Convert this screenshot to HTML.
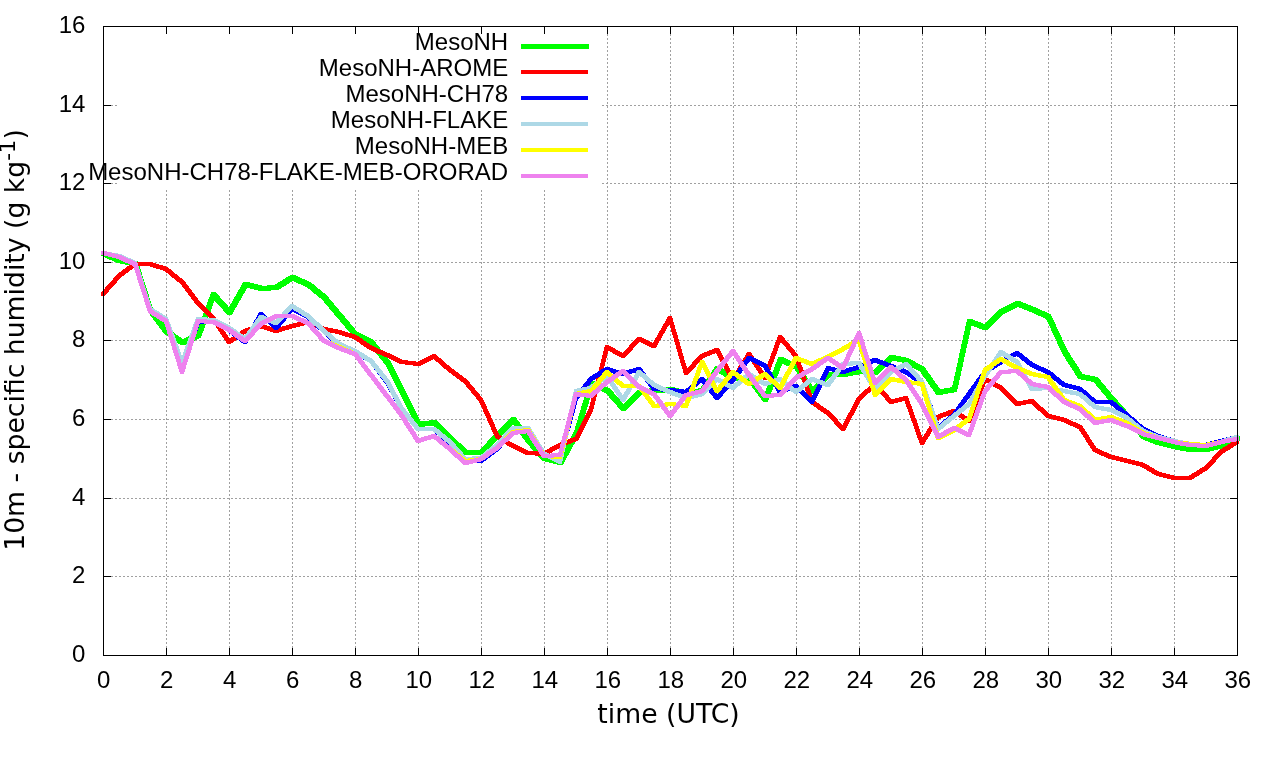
<!DOCTYPE html>
<html lang="en"><head><meta charset="utf-8"><title>10m - specific humidity</title>
<style>html,body{margin:0;padding:0;background:#fff;}body{width:1280px;height:760px;overflow:hidden;}svg{display:block;}.t{font-family:"Liberation Sans",Arial,sans-serif;font-size:24px;fill:#000;}.l{font-family:"DejaVu Sans","Liberation Sans",sans-serif;font-size:26.67px;fill:#000;}.g{stroke:#a0a0a0;stroke-width:1;stroke-dasharray:2 2;fill:none;shape-rendering:crispEdges;}.k{stroke:#000;stroke-width:1;fill:none;shape-rendering:crispEdges;}.s{stroke:none;fill-rule:nonzero;shape-rendering:crispEdges;}</style></head><body>
<svg width="1280" height="760" viewBox="0 0 1280 760">
<rect width="1280" height="760" fill="#fff"/>
<path class="g" d="M166.5 656V190M229.5 656V190M292.5 656V190M355.5 656V190M418.5 656V190M481.5 656V190M544.5 656V190M607.5 656V26M670.5 656V26M733.5 656V26M796.5 656V26M859.5 656V26M922.5 656V26M985.5 656V26M1048.5 656V26M1111.5 656V26M1174.5 656V26M103 576.5H1238M103 498.5H1238M103 419.5H1238M103 340.5H1238M103 262.5H1238M103 183.5H117M602 183.5H1238M103 105.5H117M602 105.5H1238"/>
<path class="k" d="M103.5 656v-8M103.5 26v8M166.5 656v-8M166.5 26v8M229.5 656v-8M229.5 26v8M292.5 656v-8M292.5 26v8M355.5 656v-8M355.5 26v8M418.5 656v-8M418.5 26v8M481.5 656v-8M481.5 26v8M544.5 656v-8M544.5 26v8M607.5 656v-8M607.5 26v8M670.5 656v-8M670.5 26v8M733.5 656v-8M733.5 26v8M796.5 656v-8M796.5 26v8M859.5 656v-8M859.5 26v8M922.5 656v-8M922.5 26v8M985.5 656v-8M985.5 26v8M1048.5 656v-8M1048.5 26v8M1111.5 656v-8M1111.5 26v8M1174.5 656v-8M1174.5 26v8M1237.5 656v-8M1237.5 26v8M103 655.5h8M1238 655.5h-8M103 576.5h8M1238 576.5h-8M103 498.5h8M1238 498.5h-8M103 419.5h8M1238 419.5h-8M103 340.5h8M1238 340.5h-8M103 262.5h8M1238 262.5h-8M103 183.5h8M1238 183.5h-8M103 105.5h8M1238 105.5h-8M103 26.5h8M1238 26.5h-8"/>
<text class="t" x="103.8" y="688.2" text-anchor="middle">0</text>
<text class="t" x="166.8" y="688.2" text-anchor="middle">2</text>
<text class="t" x="229.8" y="688.2" text-anchor="middle">4</text>
<text class="t" x="292.8" y="688.2" text-anchor="middle">6</text>
<text class="t" x="355.8" y="688.2" text-anchor="middle">8</text>
<text class="t" x="418.8" y="688.2" text-anchor="middle">10</text>
<text class="t" x="481.8" y="688.2" text-anchor="middle">12</text>
<text class="t" x="544.8" y="688.2" text-anchor="middle">14</text>
<text class="t" x="607.8" y="688.2" text-anchor="middle">16</text>
<text class="t" x="670.8" y="688.2" text-anchor="middle">18</text>
<text class="t" x="733.8" y="688.2" text-anchor="middle">20</text>
<text class="t" x="796.8" y="688.2" text-anchor="middle">22</text>
<text class="t" x="859.8" y="688.2" text-anchor="middle">24</text>
<text class="t" x="922.8" y="688.2" text-anchor="middle">26</text>
<text class="t" x="985.8" y="688.2" text-anchor="middle">28</text>
<text class="t" x="1048.8" y="688.2" text-anchor="middle">30</text>
<text class="t" x="1111.8" y="688.2" text-anchor="middle">32</text>
<text class="t" x="1174.8" y="688.2" text-anchor="middle">34</text>
<text class="t" x="1237.8" y="688.2" text-anchor="middle">36</text>
<text class="t" x="85.4" y="662.0" text-anchor="end">0</text>
<text class="t" x="85.4" y="583.0" text-anchor="end">2</text>
<text class="t" x="85.4" y="505.0" text-anchor="end">4</text>
<text class="t" x="85.4" y="426.0" text-anchor="end">6</text>
<text class="t" x="85.4" y="347.0" text-anchor="end">8</text>
<text class="t" x="85.4" y="269.0" text-anchor="end">10</text>
<text class="t" x="85.4" y="190.0" text-anchor="end">12</text>
<text class="t" x="85.4" y="112.0" text-anchor="end">14</text>
<text class="t" x="85.4" y="33.0" text-anchor="end">16</text>
<path class="s" fill="#00ff00" d="M101.5 251L105.5 251L121.5 258L121.5 263L117.5 263L101.5 256ZM117.5 258L121.5 258L137.5 261L137.5 266L133.5 266L117.5 263ZM133 261.5L138 261.5L153 308.5L153 312.5L148 312.5L133 265.5ZM148 308.5L153 308.5L169 329.5L169 333.5L164 333.5L148 312.5ZM164.5 329L168.5 329L184.5 340L184.5 345L180.5 345L164.5 334ZM180.5 340L196.5 333L200.5 333L200.5 338L184.5 345L180.5 345ZM196 333.5L211 292.5L216 292.5L216 296.5L201 337.5L196 337.5ZM211 292.5L216 292.5L232 310.5L232 314.5L227 314.5L211 296.5ZM227 310.5L243 282.5L248 282.5L248 286.5L232 314.5L227 314.5ZM243.5 282L247.5 282L263.5 286L263.5 291L259.5 291L243.5 287ZM259.5 286L274.5 285L278.5 285L278.5 290L263.5 291L259.5 291ZM274.5 285L290.5 275L294.5 275L294.5 280L278.5 290L274.5 290ZM290.5 275L294.5 275L310.5 282L310.5 287L306.5 287L290.5 280ZM306.5 282L310.5 282L326.5 295L326.5 300L322.5 300L306.5 287ZM322 295.5L327 295.5L342 313.5L342 317.5L337 317.5L322 299.5ZM337 313.5L342 313.5L358 332.5L358 336.5L353 336.5L337 317.5ZM353.5 332L357.5 332L373.5 340L373.5 345L369.5 345L353.5 337ZM369 340.5L374 340.5L390 360.5L390 364.5L385 364.5L369 344.5ZM385 360.5L390 360.5L405 390.5L405 394.5L400 394.5L385 364.5ZM400 390.5L405 390.5L421 422.5L421 426.5L416 426.5L400 394.5ZM416.5 422L432.5 420L436.5 420L436.5 425L420.5 427L416.5 427ZM432.5 420L436.5 420L452.5 436L452.5 441L448.5 441L432.5 425ZM448.5 436L452.5 436L467.5 450L467.5 455L463.5 455L448.5 441ZM463 450L468 450L484 450L484 455L479 455L463 455ZM479 450.5L495 433.5L500 433.5L500 437.5L484 454.5L479 454.5ZM495.5 433L511.5 417L515.5 417L515.5 422L499.5 438L495.5 438ZM511 417.5L516 417.5L531 438.5L531 442.5L526 442.5L511 421.5ZM526 438.5L531 438.5L547 456.5L547 460.5L542 460.5L526 442.5ZM542.5 456L546.5 456L562.5 460L562.5 465L558.5 465L542.5 461ZM558 460.5L574 431.5L579 431.5L579 435.5L563 464.5L558 464.5ZM574 431.5L589 381.5L594 381.5L594 385.5L579 435.5L574 435.5ZM589.5 381L593.5 381L609.5 388L609.5 393L605.5 393L589.5 386ZM605 388.5L610 388.5L626 406.5L626 410.5L621 410.5L605 392.5ZM621.5 406L637.5 390L641.5 390L641.5 395L625.5 411L621.5 411ZM637.5 390L652.5 388L656.5 388L656.5 393L641.5 395L637.5 395ZM652.5 388L668.5 387L672.5 387L672.5 392L656.5 393L652.5 393ZM668.5 387L672.5 387L688.5 391L688.5 396L684.5 396L668.5 392ZM684.5 391L700.5 388L704.5 388L704.5 393L688.5 396L684.5 396ZM700 388.5L715 366.5L720 366.5L720 370.5L705 392.5L700 392.5ZM715.5 366L719.5 366L735.5 376L735.5 381L731.5 381L715.5 371ZM731 376L736 376L752 376L752 381L747 381L731 381ZM747 376.5L752 376.5L768 397.5L768 401.5L763 401.5L747 380.5ZM763 397.5L778 357.5L783 357.5L783 361.5L768 401.5L763 401.5ZM778.5 357L782.5 357L798.5 364L798.5 369L794.5 369L778.5 362ZM794 364.5L799 364.5L815 389.5L815 393.5L810 393.5L794 368.5ZM810 389.5L826 372.5L831 372.5L831 376.5L815 393.5L810 393.5ZM826 372L831 372L846 372L846 377L841 377L826 377ZM841.5 372L857.5 369L861.5 369L861.5 374L845.5 377L841.5 377ZM857.5 369L861.5 369L877.5 370L877.5 375L873.5 375L857.5 374ZM873.5 370L889.5 355L893.5 355L893.5 360L877.5 375L873.5 375ZM889.5 355L893.5 355L908.5 358L908.5 363L904.5 363L889.5 360ZM904.5 358L908.5 358L924.5 367L924.5 372L920.5 372L904.5 363ZM920 367.5L925 367.5L941 390.5L941 394.5L936 394.5L920 371.5ZM936.5 390L952.5 387L956.5 387L956.5 392L940.5 395L936.5 395ZM952 387.5L967 319.5L972 319.5L972 323.5L957 391.5L952 391.5ZM967.5 319L971.5 319L987.5 325L987.5 330L983.5 330L967.5 324ZM983.5 325L999.5 309L1003.5 309L1003.5 314L987.5 330L983.5 330ZM999.5 309L1015.5 301L1019.5 301L1019.5 306L1003.5 314L999.5 314ZM1015.5 301L1019.5 301L1034.5 307L1034.5 312L1030.5 312L1015.5 306ZM1030.5 307L1034.5 307L1050.5 314L1050.5 319L1046.5 319L1030.5 312ZM1046 314.5L1051 314.5L1067 349.5L1067 353.5L1062 353.5L1046 318.5ZM1062 349.5L1067 349.5L1083 374.5L1083 378.5L1078 378.5L1062 353.5ZM1078.5 374L1082.5 374L1097.5 377L1097.5 382L1093.5 382L1078.5 379ZM1093 377.5L1098 377.5L1114 396.5L1114 400.5L1109 400.5L1093 381.5ZM1109 396.5L1114 396.5L1130 414.5L1130 418.5L1125 418.5L1109 400.5ZM1125 414.5L1130 414.5L1146 434.5L1146 438.5L1141 438.5L1125 418.5ZM1141.5 434L1145.5 434L1160.5 440L1160.5 445L1156.5 445L1141.5 439ZM1156.5 440L1160.5 440L1176.5 444L1176.5 449L1172.5 449L1156.5 445ZM1172.5 444L1176.5 444L1192.5 447L1192.5 452L1188.5 452L1172.5 449ZM1188 447L1193 447L1209 447L1209 452L1204 452L1188 452ZM1204.5 447L1219.5 443L1223.5 443L1223.5 448L1208.5 452L1204.5 452ZM1219.5 443L1235.5 436L1239.5 436L1239.5 441L1223.5 448L1219.5 448ZM101 251h5v5h-5ZM117 258h5v5h-5ZM133 261h5v5h-5ZM148 308h5v5h-5ZM164 329h5v5h-5ZM180 340h5v5h-5ZM196 333h5v5h-5ZM211 292h5v5h-5ZM227 310h5v5h-5ZM243 282h5v5h-5ZM259 286h5v5h-5ZM274 285h5v5h-5ZM290 275h5v5h-5ZM306 282h5v5h-5ZM322 295h5v5h-5ZM337 313h5v5h-5ZM353 332h5v5h-5ZM369 340h5v5h-5ZM385 360h5v5h-5ZM400 390h5v5h-5ZM416 422h5v5h-5ZM432 420h5v5h-5ZM448 436h5v5h-5ZM463 450h5v5h-5ZM479 450h5v5h-5ZM495 433h5v5h-5ZM511 417h5v5h-5ZM526 438h5v5h-5ZM542 456h5v5h-5ZM558 460h5v5h-5ZM574 431h5v5h-5ZM589 381h5v5h-5ZM605 388h5v5h-5ZM621 406h5v5h-5ZM637 390h5v5h-5ZM652 388h5v5h-5ZM668 387h5v5h-5ZM684 391h5v5h-5ZM700 388h5v5h-5ZM715 366h5v5h-5ZM731 376h5v5h-5ZM747 376h5v5h-5ZM763 397h5v5h-5ZM778 357h5v5h-5ZM794 364h5v5h-5ZM810 389h5v5h-5ZM826 372h5v5h-5ZM841 372h5v5h-5ZM857 369h5v5h-5ZM873 370h5v5h-5ZM889 355h5v5h-5ZM904 358h5v5h-5ZM920 367h5v5h-5ZM936 390h5v5h-5ZM952 387h5v5h-5ZM967 319h5v5h-5ZM983 325h5v5h-5ZM999 309h5v5h-5ZM1015 301h5v5h-5ZM1030 307h5v5h-5ZM1046 314h5v5h-5ZM1062 349h5v5h-5ZM1078 374h5v5h-5ZM1093 377h5v5h-5ZM1109 396h5v5h-5ZM1125 414h5v5h-5ZM1141 434h5v5h-5ZM1156 440h5v5h-5ZM1172 444h5v5h-5ZM1188 447h5v5h-5ZM1204 447h5v5h-5ZM1219 443h5v5h-5ZM1235 436h5v5h-5Z"/>
<path class="s" fill="#ff0000" d="M101 292.5L117 274.5L121 274.5L121 277.5L105 295.5L101 295.5ZM117.5 274L133.5 262L136.5 262L136.5 266L120.5 278L117.5 278ZM133 262L137 262L152 262L152 266L148 266L133 266ZM148.5 262L151.5 262L167.5 267L167.5 271L164.5 271L148.5 266ZM164.5 267L167.5 267L183.5 280L183.5 284L180.5 284L164.5 271ZM180 280.5L184 280.5L200 301.5L200 304.5L196 304.5L180 283.5ZM196.5 301L199.5 301L214.5 316L214.5 320L211.5 320L196.5 305ZM211 316.5L215 316.5L231 340.5L231 343.5L227 343.5L211 319.5ZM227.5 340L243.5 329L246.5 329L246.5 333L230.5 344L227.5 344ZM243.5 329L259.5 324L262.5 324L262.5 328L246.5 333L243.5 333ZM259.5 324L262.5 324L277.5 329L277.5 333L274.5 333L259.5 328ZM274.5 329L290.5 324L293.5 324L293.5 328L277.5 333L274.5 333ZM290.5 324L306.5 320L309.5 320L309.5 324L293.5 328L290.5 328ZM306.5 320L309.5 320L325.5 327L325.5 331L322.5 331L306.5 324ZM322.5 327L325.5 327L340.5 330L340.5 334L337.5 334L322.5 331ZM337.5 330L340.5 330L356.5 335L356.5 339L353.5 339L337.5 334ZM353.5 335L356.5 335L372.5 346L372.5 350L369.5 350L353.5 339ZM369.5 346L372.5 346L388.5 353L388.5 357L385.5 357L369.5 350ZM385.5 353L388.5 353L403.5 360L403.5 364L400.5 364L385.5 357ZM400.5 360L403.5 360L419.5 362L419.5 366L416.5 366L400.5 364ZM416.5 362L432.5 354L435.5 354L435.5 358L419.5 366L416.5 366ZM432.5 354L435.5 354L451.5 368L451.5 372L448.5 372L432.5 358ZM448.5 368L451.5 368L466.5 379L466.5 383L463.5 383L448.5 372ZM463 379.5L467 379.5L483 398.5L483 401.5L479 401.5L463 382.5ZM479 398.5L483 398.5L499 434.5L499 437.5L495 437.5L479 401.5ZM495.5 434L498.5 434L514.5 444L514.5 448L511.5 448L495.5 438ZM511.5 444L514.5 444L529.5 451L529.5 455L526.5 455L511.5 448ZM526.5 451L529.5 451L545.5 452L545.5 456L542.5 456L526.5 455ZM542.5 452L558.5 443L561.5 443L561.5 447L545.5 456L542.5 456ZM558.5 443L574.5 437L577.5 437L577.5 441L561.5 447L558.5 447ZM574 437.5L589 407.5L593 407.5L593 410.5L578 440.5L574 440.5ZM589 407.5L605 345.5L609 345.5L609 348.5L593 410.5L589 410.5ZM605.5 345L608.5 345L624.5 354L624.5 358L621.5 358L605.5 349ZM621 354.5L637 337.5L641 337.5L641 340.5L625 357.5L621 357.5ZM637.5 337L640.5 337L655.5 344L655.5 348L652.5 348L637.5 341ZM652 344.5L668 316.5L672 316.5L672 319.5L656 347.5L652 347.5ZM668 316.5L672 316.5L688 371.5L688 374.5L684 374.5L668 319.5ZM684 371.5L700 354.5L704 354.5L704 357.5L688 374.5L684 374.5ZM700.5 354L715.5 348L718.5 348L718.5 352L703.5 358L700.5 358ZM715 348.5L719 348.5L735 378.5L735 381.5L731 381.5L715 351.5ZM731 378.5L747 352.5L751 352.5L751 355.5L735 381.5L731 381.5ZM747 352.5L751 352.5L767 376.5L767 379.5L763 379.5L747 355.5ZM763 376.5L778 335.5L782 335.5L782 338.5L767 379.5L763 379.5ZM778 335.5L782 335.5L798 354.5L798 357.5L794 357.5L778 338.5ZM794 354.5L798 354.5L814 400.5L814 403.5L810 403.5L794 357.5ZM810.5 400L813.5 400L829.5 411L829.5 415L826.5 415L810.5 404ZM826 411.5L830 411.5L845 427.5L845 430.5L841 430.5L826 414.5ZM841 427.5L857 397.5L861 397.5L861 400.5L845 430.5L841 430.5ZM857.5 397L873.5 382L876.5 382L876.5 386L860.5 401L857.5 401ZM873 382.5L877 382.5L893 400.5L893 403.5L889 403.5L873 385.5ZM889.5 400L904.5 396L907.5 396L907.5 400L892.5 404L889.5 404ZM904 396.5L908 396.5L924 441.5L924 444.5L920 444.5L904 399.5ZM920 441.5L936 415.5L940 415.5L940 418.5L924 444.5L920 444.5ZM936.5 415L952.5 409L955.5 409L955.5 413L939.5 419L936.5 419ZM952.5 409L955.5 409L970.5 419L970.5 423L967.5 423L952.5 413ZM967 419.5L983 377.5L987 377.5L987 380.5L971 422.5L967 422.5ZM983.5 377L986.5 377L1002.5 386L1002.5 390L999.5 390L983.5 381ZM999.5 386L1002.5 386L1018.5 402L1018.5 406L1015.5 406L999.5 390ZM1015.5 402L1030.5 399L1033.5 399L1033.5 403L1018.5 406L1015.5 406ZM1030.5 399L1033.5 399L1049.5 414L1049.5 418L1046.5 418L1030.5 403ZM1046.5 414L1049.5 414L1065.5 418L1065.5 422L1062.5 422L1046.5 418ZM1062.5 418L1065.5 418L1081.5 425L1081.5 429L1078.5 429L1062.5 422ZM1078 425.5L1082 425.5L1097 448.5L1097 451.5L1093 451.5L1078 428.5ZM1093.5 448L1096.5 448L1112.5 455L1112.5 459L1109.5 459L1093.5 452ZM1109.5 455L1112.5 455L1128.5 459L1128.5 463L1125.5 463L1109.5 459ZM1125.5 459L1128.5 459L1144.5 463L1144.5 467L1141.5 467L1125.5 463ZM1141.5 463L1144.5 463L1159.5 472L1159.5 476L1156.5 476L1141.5 467ZM1156.5 472L1159.5 472L1175.5 476L1175.5 480L1172.5 480L1156.5 476ZM1172 476L1176 476L1192 476L1192 480L1188 480L1172 480ZM1188.5 476L1204.5 466L1207.5 466L1207.5 470L1191.5 480L1188.5 480ZM1204 466.5L1219 450.5L1223 450.5L1223 453.5L1208 469.5L1204 469.5ZM1219.5 450L1235.5 440L1238.5 440L1238.5 444L1222.5 454L1219.5 454ZM101 292h4v4h-4ZM117 274h4v4h-4ZM133 262h4v4h-4ZM148 262h4v4h-4ZM164 267h4v4h-4ZM180 280h4v4h-4ZM196 301h4v4h-4ZM211 316h4v4h-4ZM227 340h4v4h-4ZM243 329h4v4h-4ZM259 324h4v4h-4ZM274 329h4v4h-4ZM290 324h4v4h-4ZM306 320h4v4h-4ZM322 327h4v4h-4ZM337 330h4v4h-4ZM353 335h4v4h-4ZM369 346h4v4h-4ZM385 353h4v4h-4ZM400 360h4v4h-4ZM416 362h4v4h-4ZM432 354h4v4h-4ZM448 368h4v4h-4ZM463 379h4v4h-4ZM479 398h4v4h-4ZM495 434h4v4h-4ZM511 444h4v4h-4ZM526 451h4v4h-4ZM542 452h4v4h-4ZM558 443h4v4h-4ZM574 437h4v4h-4ZM589 407h4v4h-4ZM605 345h4v4h-4ZM621 354h4v4h-4ZM637 337h4v4h-4ZM652 344h4v4h-4ZM668 316h4v4h-4ZM684 371h4v4h-4ZM700 354h4v4h-4ZM715 348h4v4h-4ZM731 378h4v4h-4ZM747 352h4v4h-4ZM763 376h4v4h-4ZM778 335h4v4h-4ZM794 354h4v4h-4ZM810 400h4v4h-4ZM826 411h4v4h-4ZM841 427h4v4h-4ZM857 397h4v4h-4ZM873 382h4v4h-4ZM889 400h4v4h-4ZM904 396h4v4h-4ZM920 441h4v4h-4ZM936 415h4v4h-4ZM952 409h4v4h-4ZM967 419h4v4h-4ZM983 377h4v4h-4ZM999 386h4v4h-4ZM1015 402h4v4h-4ZM1030 399h4v4h-4ZM1046 414h4v4h-4ZM1062 418h4v4h-4ZM1078 425h4v4h-4ZM1093 448h4v4h-4ZM1109 455h4v4h-4ZM1125 459h4v4h-4ZM1141 463h4v4h-4ZM1156 472h4v4h-4ZM1172 476h4v4h-4ZM1188 476h4v4h-4ZM1204 466h4v4h-4ZM1219 450h4v4h-4ZM1235 440h4v4h-4Z"/>
<path class="s" fill="#0000ff" d="M101.5 251L104.5 251L120.5 255L120.5 259L117.5 259L101.5 255ZM117.5 255L120.5 255L136.5 262L136.5 266L133.5 266L117.5 259ZM133 262.5L137 262.5L152 308.5L152 311.5L148 311.5L133 265.5ZM148.5 308L151.5 308L167.5 318L167.5 322L164.5 322L148.5 312ZM164 318.5L168 318.5L184 368.5L184 371.5L180 371.5L164 321.5ZM180 368.5L196 320.5L200 320.5L200 323.5L184 371.5L180 371.5ZM196 320L200 320L215 320L215 324L211 324L196 324ZM211.5 320L214.5 320L230.5 328L230.5 332L227.5 332L211.5 324ZM227.5 328L230.5 328L246.5 340L246.5 344L243.5 344L227.5 332ZM243 340.5L259 312.5L263 312.5L263 315.5L247 343.5L243 343.5ZM259.5 312L262.5 312L277.5 326L277.5 330L274.5 330L259.5 316ZM274 326.5L290 307.5L294 307.5L294 310.5L278 329.5L274 329.5ZM290.5 307L293.5 307L309.5 315L309.5 319L306.5 319L290.5 311ZM306.5 315L309.5 315L325.5 329L325.5 333L322.5 333L306.5 319ZM322.5 329L325.5 329L340.5 344L340.5 348L337.5 348L322.5 333ZM337.5 344L340.5 344L356.5 350L356.5 354L353.5 354L337.5 348ZM353.5 350L356.5 350L372.5 359L372.5 363L369.5 363L353.5 354ZM369 359.5L373 359.5L389 380.5L389 383.5L385 383.5L369 362.5ZM385 380.5L389 380.5L404 407.5L404 410.5L400 410.5L385 383.5ZM400 407.5L404 407.5L420 427.5L420 430.5L416 430.5L400 410.5ZM416 427L420 427L436 427L436 431L432 431L416 431ZM432.5 427L435.5 427L451.5 441L451.5 445L448.5 445L432.5 431ZM448 441.5L452 441.5L467 458.5L467 461.5L463 461.5L448 444.5ZM463.5 458L466.5 458L482.5 459L482.5 463L479.5 463L463.5 462ZM479.5 459L495.5 447L498.5 447L498.5 451L482.5 463L479.5 463ZM495 447.5L511 428.5L515 428.5L515 431.5L499 450.5L495 450.5ZM511.5 428L526.5 427L529.5 427L529.5 431L514.5 432L511.5 432ZM526 427.5L530 427.5L546 453.5L546 456.5L542 456.5L526 430.5ZM542.5 453L545.5 453L561.5 456L561.5 460L558.5 460L542.5 457ZM558 456.5L574 396.5L578 396.5L578 399.5L562 459.5L558 459.5ZM574 396.5L589 377.5L593 377.5L593 380.5L578 399.5L574 399.5ZM589.5 377L605.5 367L608.5 367L608.5 371L592.5 381L589.5 381ZM605.5 367L608.5 367L624.5 372L624.5 376L621.5 376L605.5 371ZM621.5 372L637.5 367L640.5 367L640.5 371L624.5 376L621.5 376ZM637 367.5L641 367.5L656 387.5L656 390.5L652 390.5L637 370.5ZM652.5 387L655.5 387L671.5 388L671.5 392L668.5 392L652.5 391ZM668.5 388L671.5 388L687.5 390L687.5 394L684.5 394L668.5 392ZM684.5 390L700.5 377L703.5 377L703.5 381L687.5 394L684.5 394ZM700 377.5L704 377.5L719 396.5L719 399.5L715 399.5L700 380.5ZM715 396.5L731 378.5L735 378.5L735 381.5L719 399.5L715 399.5ZM731 378.5L747 356.5L751 356.5L751 359.5L735 381.5L731 381.5ZM747.5 356L750.5 356L766.5 364L766.5 368L763.5 368L747.5 360ZM763 364.5L767 364.5L782 390.5L782 393.5L778 393.5L763 367.5ZM778.5 390L794.5 384L797.5 384L797.5 388L781.5 394L778.5 394ZM794.5 384L797.5 384L813.5 400L813.5 404L810.5 404L794.5 388ZM810 400.5L826 366.5L830 366.5L830 369.5L814 403.5L810 403.5ZM826.5 366L829.5 366L844.5 370L844.5 374L841.5 374L826.5 370ZM841.5 370L857.5 365L860.5 365L860.5 369L844.5 374L841.5 374ZM857.5 365L873.5 358L876.5 358L876.5 362L860.5 369L857.5 369ZM873.5 358L876.5 358L892.5 364L892.5 368L889.5 368L873.5 362ZM889.5 364L892.5 364L907.5 370L907.5 374L904.5 374L889.5 368ZM904.5 370L907.5 370L923.5 381L923.5 385L920.5 385L904.5 374ZM920 381.5L924 381.5L940 426.5L940 429.5L936 429.5L920 384.5ZM936.5 426L952.5 413L955.5 413L955.5 417L939.5 430L936.5 430ZM952 413.5L967 392.5L971 392.5L971 395.5L956 416.5L952 416.5ZM967 392.5L983 370.5L987 370.5L987 373.5L971 395.5L967 395.5ZM983.5 370L999.5 360L1002.5 360L1002.5 364L986.5 374L983.5 374ZM999.5 360L1015.5 351L1018.5 351L1018.5 355L1002.5 364L999.5 364ZM1015.5 351L1018.5 351L1033.5 363L1033.5 367L1030.5 367L1015.5 355ZM1030.5 363L1033.5 363L1049.5 370L1049.5 374L1046.5 374L1030.5 367ZM1046.5 370L1049.5 370L1065.5 383L1065.5 387L1062.5 387L1046.5 374ZM1062.5 383L1065.5 383L1081.5 387L1081.5 391L1078.5 391L1062.5 387ZM1078.5 387L1081.5 387L1096.5 400L1096.5 404L1093.5 404L1078.5 391ZM1093 400L1097 400L1113 400L1113 404L1109 404L1093 404ZM1109.5 400L1112.5 400L1128.5 413L1128.5 417L1125.5 417L1109.5 404ZM1125.5 413L1128.5 413L1144.5 427L1144.5 431L1141.5 431L1125.5 417ZM1141.5 427L1144.5 427L1159.5 434L1159.5 438L1156.5 438L1141.5 431ZM1156.5 434L1159.5 434L1175.5 439L1175.5 443L1172.5 443L1156.5 438ZM1172.5 439L1175.5 439L1191.5 442L1191.5 446L1188.5 446L1172.5 443ZM1188.5 442L1191.5 442L1207.5 443L1207.5 447L1204.5 447L1188.5 446ZM1204.5 443L1219.5 439L1222.5 439L1222.5 443L1207.5 447L1204.5 447ZM1219.5 439L1235.5 435L1238.5 435L1238.5 439L1222.5 443L1219.5 443ZM101 251h4v4h-4ZM117 255h4v4h-4ZM133 262h4v4h-4ZM148 308h4v4h-4ZM164 318h4v4h-4ZM180 368h4v4h-4ZM196 320h4v4h-4ZM211 320h4v4h-4ZM227 328h4v4h-4ZM243 340h4v4h-4ZM259 312h4v4h-4ZM274 326h4v4h-4ZM290 307h4v4h-4ZM306 315h4v4h-4ZM322 329h4v4h-4ZM337 344h4v4h-4ZM353 350h4v4h-4ZM369 359h4v4h-4ZM385 380h4v4h-4ZM400 407h4v4h-4ZM416 427h4v4h-4ZM432 427h4v4h-4ZM448 441h4v4h-4ZM463 458h4v4h-4ZM479 459h4v4h-4ZM495 447h4v4h-4ZM511 428h4v4h-4ZM526 427h4v4h-4ZM542 453h4v4h-4ZM558 456h4v4h-4ZM574 396h4v4h-4ZM589 377h4v4h-4ZM605 367h4v4h-4ZM621 372h4v4h-4ZM637 367h4v4h-4ZM652 387h4v4h-4ZM668 388h4v4h-4ZM684 390h4v4h-4ZM700 377h4v4h-4ZM715 396h4v4h-4ZM731 378h4v4h-4ZM747 356h4v4h-4ZM763 364h4v4h-4ZM778 390h4v4h-4ZM794 384h4v4h-4ZM810 400h4v4h-4ZM826 366h4v4h-4ZM841 370h4v4h-4ZM857 365h4v4h-4ZM873 358h4v4h-4ZM889 364h4v4h-4ZM904 370h4v4h-4ZM920 381h4v4h-4ZM936 426h4v4h-4ZM952 413h4v4h-4ZM967 392h4v4h-4ZM983 370h4v4h-4ZM999 360h4v4h-4ZM1015 351h4v4h-4ZM1030 363h4v4h-4ZM1046 370h4v4h-4ZM1062 383h4v4h-4ZM1078 387h4v4h-4ZM1093 400h4v4h-4ZM1109 400h4v4h-4ZM1125 413h4v4h-4ZM1141 427h4v4h-4ZM1156 434h4v4h-4ZM1172 439h4v4h-4ZM1188 442h4v4h-4ZM1204 443h4v4h-4ZM1219 439h4v4h-4ZM1235 435h4v4h-4Z"/>
<path class="s" fill="#add8e6" d="M101.5 251L104.5 251L120.5 254L120.5 258L117.5 258L101.5 255ZM117.5 254L120.5 254L136.5 261L136.5 265L133.5 265L117.5 258ZM133 261.5L137 261.5L152 307.5L152 310.5L148 310.5L133 264.5ZM148.5 307L151.5 307L167.5 317L167.5 321L164.5 321L148.5 311ZM164 317.5L168 317.5L184 361.5L184 364.5L180 364.5L164 320.5ZM180 361.5L196 317.5L200 317.5L200 320.5L184 364.5L180 364.5ZM196.5 317L199.5 317L214.5 318L214.5 322L211.5 322L196.5 321ZM211.5 318L214.5 318L230.5 326L230.5 330L227.5 330L211.5 322ZM227.5 326L230.5 326L246.5 337L246.5 341L243.5 341L227.5 330ZM243 337.5L259 315.5L263 315.5L263 318.5L247 340.5L243 340.5ZM259.5 315L262.5 315L277.5 321L277.5 325L274.5 325L259.5 319ZM274 321.5L290 304.5L294 304.5L294 307.5L278 324.5L274 324.5ZM290.5 304L293.5 304L309.5 314L309.5 318L306.5 318L290.5 308ZM306.5 314L309.5 314L325.5 329L325.5 333L322.5 333L306.5 318ZM322.5 329L325.5 329L340.5 342L340.5 346L337.5 346L322.5 333ZM337.5 342L340.5 342L356.5 349L356.5 353L353.5 353L337.5 346ZM353.5 349L356.5 349L372.5 359L372.5 363L369.5 363L353.5 353ZM369 359.5L373 359.5L389 379.5L389 382.5L385 382.5L369 362.5ZM385 379.5L389 379.5L404 407.5L404 410.5L400 410.5L385 382.5ZM400 407.5L404 407.5L420 427.5L420 430.5L416 430.5L400 410.5ZM416 427L420 427L436 427L436 431L432 431L416 431ZM432.5 427L435.5 427L451.5 440L451.5 444L448.5 444L432.5 431ZM448 440.5L452 440.5L467 457.5L467 460.5L463 460.5L448 443.5ZM463.5 457L479.5 456L482.5 456L482.5 460L466.5 461L463.5 461ZM479.5 456L495.5 443L498.5 443L498.5 447L482.5 460L479.5 460ZM495 443.5L511 426.5L515 426.5L515 429.5L499 446.5L495 446.5ZM511 426L515 426L530 426L530 430L526 430L511 430ZM526 426.5L530 426.5L546 452.5L546 455.5L542 455.5L526 429.5ZM542.5 452L545.5 452L561.5 460L561.5 464L558.5 464L542.5 456ZM558 460.5L574 389.5L578 389.5L578 392.5L562 463.5L558 463.5ZM574.5 389L589.5 386L592.5 386L592.5 390L577.5 393L574.5 393ZM589.5 386L605.5 374L608.5 374L608.5 378L592.5 390L589.5 390ZM605 374.5L609 374.5L625 398.5L625 401.5L621 401.5L605 377.5ZM621 398.5L637 370.5L641 370.5L641 373.5L625 401.5L621 401.5ZM637.5 370L640.5 370L655.5 383L655.5 387L652.5 387L637.5 374ZM652.5 383L655.5 383L671.5 390L671.5 394L668.5 394L652.5 387ZM668.5 390L671.5 390L687.5 396L687.5 400L684.5 400L668.5 394ZM684.5 396L700.5 392L703.5 392L703.5 396L687.5 400L684.5 400ZM700.5 392L715.5 377L718.5 377L718.5 381L703.5 396L700.5 396ZM715.5 377L718.5 377L734.5 386L734.5 390L731.5 390L715.5 381ZM731.5 386L747.5 372L750.5 372L750.5 376L734.5 390L731.5 390ZM747.5 372L750.5 372L766.5 382L766.5 386L763.5 386L747.5 376ZM763.5 382L778.5 377L781.5 377L781.5 381L766.5 386L763.5 386ZM778.5 377L781.5 377L797.5 390L797.5 394L794.5 394L778.5 381ZM794.5 390L810.5 377L813.5 377L813.5 381L797.5 394L794.5 394ZM810.5 377L813.5 377L829.5 383L829.5 387L826.5 387L810.5 381ZM826 383.5L841 362.5L845 362.5L845 365.5L830 386.5L826 386.5ZM841.5 362L857.5 361L860.5 361L860.5 365L844.5 366L841.5 366ZM857 361.5L861 361.5L877 387.5L877 390.5L873 390.5L857 364.5ZM873 387.5L889 370.5L893 370.5L893 373.5L877 390.5L873 390.5ZM889.5 370L904.5 362L907.5 362L907.5 366L892.5 374L889.5 374ZM904 362.5L908 362.5L924 380.5L924 383.5L920 383.5L904 365.5ZM920 380.5L924 380.5L940 427.5L940 430.5L936 430.5L920 383.5ZM936.5 427L952.5 414L955.5 414L955.5 418L939.5 431L936.5 431ZM952.5 414L967.5 402L970.5 402L970.5 406L955.5 418L952.5 418ZM967 402.5L983 374.5L987 374.5L987 377.5L971 405.5L967 405.5ZM983 374.5L999 350.5L1003 350.5L1003 353.5L987 377.5L983 377.5ZM999.5 350L1002.5 350L1018.5 360L1018.5 364L1015.5 364L999.5 354ZM1015 360.5L1019 360.5L1034 387.5L1034 390.5L1030 390.5L1015 363.5ZM1030.5 387L1046.5 386L1049.5 386L1049.5 390L1033.5 391L1030.5 391ZM1046.5 386L1049.5 386L1065.5 389L1065.5 393L1062.5 393L1046.5 390ZM1062.5 389L1065.5 389L1081.5 392L1081.5 396L1078.5 396L1062.5 393ZM1078.5 392L1081.5 392L1096.5 405L1096.5 409L1093.5 409L1078.5 396ZM1093.5 405L1096.5 405L1112.5 408L1112.5 412L1109.5 412L1093.5 409ZM1109.5 408L1112.5 408L1128.5 416L1128.5 420L1125.5 420L1109.5 412ZM1125.5 416L1128.5 416L1144.5 429L1144.5 433L1141.5 433L1125.5 420ZM1141.5 429L1144.5 429L1159.5 435L1159.5 439L1156.5 439L1141.5 433ZM1156.5 435L1159.5 435L1175.5 439L1175.5 443L1172.5 443L1156.5 439ZM1172.5 439L1175.5 439L1191.5 442L1191.5 446L1188.5 446L1172.5 443ZM1188.5 442L1191.5 442L1207.5 444L1207.5 448L1204.5 448L1188.5 446ZM1204.5 444L1219.5 440L1222.5 440L1222.5 444L1207.5 448L1204.5 448ZM1219.5 440L1235.5 435L1238.5 435L1238.5 439L1222.5 444L1219.5 444ZM101 251h4v4h-4ZM117 254h4v4h-4ZM133 261h4v4h-4ZM148 307h4v4h-4ZM164 317h4v4h-4ZM180 361h4v4h-4ZM196 317h4v4h-4ZM211 318h4v4h-4ZM227 326h4v4h-4ZM243 337h4v4h-4ZM259 315h4v4h-4ZM274 321h4v4h-4ZM290 304h4v4h-4ZM306 314h4v4h-4ZM322 329h4v4h-4ZM337 342h4v4h-4ZM353 349h4v4h-4ZM369 359h4v4h-4ZM385 379h4v4h-4ZM400 407h4v4h-4ZM416 427h4v4h-4ZM432 427h4v4h-4ZM448 440h4v4h-4ZM463 457h4v4h-4ZM479 456h4v4h-4ZM495 443h4v4h-4ZM511 426h4v4h-4ZM526 426h4v4h-4ZM542 452h4v4h-4ZM558 460h4v4h-4ZM574 389h4v4h-4ZM589 386h4v4h-4ZM605 374h4v4h-4ZM621 398h4v4h-4ZM637 370h4v4h-4ZM652 383h4v4h-4ZM668 390h4v4h-4ZM684 396h4v4h-4ZM700 392h4v4h-4ZM715 377h4v4h-4ZM731 386h4v4h-4ZM747 372h4v4h-4ZM763 382h4v4h-4ZM778 377h4v4h-4ZM794 390h4v4h-4ZM810 377h4v4h-4ZM826 383h4v4h-4ZM841 362h4v4h-4ZM857 361h4v4h-4ZM873 387h4v4h-4ZM889 370h4v4h-4ZM904 362h4v4h-4ZM920 380h4v4h-4ZM936 427h4v4h-4ZM952 414h4v4h-4ZM967 402h4v4h-4ZM983 374h4v4h-4ZM999 350h4v4h-4ZM1015 360h4v4h-4ZM1030 387h4v4h-4ZM1046 386h4v4h-4ZM1062 389h4v4h-4ZM1078 392h4v4h-4ZM1093 405h4v4h-4ZM1109 408h4v4h-4ZM1125 416h4v4h-4ZM1141 429h4v4h-4ZM1156 435h4v4h-4ZM1172 439h4v4h-4ZM1188 442h4v4h-4ZM1204 444h4v4h-4ZM1219 440h4v4h-4ZM1235 435h4v4h-4Z"/>
<path class="s" fill="#ffff00" d="M101.5 251L104.5 251L120.5 255L120.5 259L117.5 259L101.5 255ZM117.5 255L120.5 255L136.5 262L136.5 266L133.5 266L117.5 259ZM133 262.5L137 262.5L152 309.5L152 312.5L148 312.5L133 265.5ZM148.5 309L151.5 309L167.5 319L167.5 323L164.5 323L148.5 313ZM164 319.5L168 319.5L184 370.5L184 373.5L180 373.5L164 322.5ZM180 370.5L196 319.5L200 319.5L200 322.5L184 373.5L180 373.5ZM196.5 319L199.5 319L214.5 320L214.5 324L211.5 324L196.5 323ZM211.5 320L214.5 320L230.5 328L230.5 332L227.5 332L211.5 324ZM227.5 328L230.5 328L246.5 339L246.5 343L243.5 343L227.5 332ZM243 339.5L259 322.5L263 322.5L263 325.5L247 342.5L243 342.5ZM259.5 322L274.5 314L277.5 314L277.5 318L262.5 326L259.5 326ZM274 314L278 314L294 314L294 318L290 318L274 318ZM290.5 314L293.5 314L309.5 321L309.5 325L306.5 325L290.5 318ZM306 321.5L310 321.5L326 339.5L326 342.5L322 342.5L306 324.5ZM322.5 339L325.5 339L340.5 345L340.5 349L337.5 349L322.5 343ZM337.5 345L340.5 345L356.5 352L356.5 356L353.5 356L337.5 349ZM353 352.5L357 352.5L373 373.5L373 376.5L369 376.5L353 355.5ZM369 373.5L373 373.5L389 394.5L389 397.5L385 397.5L369 376.5ZM385 394.5L389 394.5L404 414.5L404 417.5L400 417.5L385 397.5ZM400 414.5L404 414.5L420 439.5L420 442.5L416 442.5L400 417.5ZM416.5 439L432.5 434L435.5 434L435.5 438L419.5 443L416.5 443ZM432.5 434L435.5 434L451.5 447L451.5 451L448.5 451L432.5 438ZM448.5 447L451.5 447L466.5 459L466.5 463L463.5 463L448.5 451ZM463.5 459L479.5 457L482.5 457L482.5 461L466.5 463L463.5 463ZM479.5 457L495.5 446L498.5 446L498.5 450L482.5 461L479.5 461ZM495.5 446L511.5 430L514.5 430L514.5 434L498.5 450L495.5 450ZM511.5 430L526.5 428L529.5 428L529.5 432L514.5 434L511.5 434ZM526 428.5L530 428.5L546 454.5L546 457.5L542 457.5L526 431.5ZM542.5 454L545.5 454L561.5 455L561.5 459L558.5 459L542.5 458ZM558 455.5L574 392.5L578 392.5L578 395.5L562 458.5L558 458.5ZM574.5 392L589.5 389L592.5 389L592.5 393L577.5 396L574.5 396ZM589 389.5L605 370.5L609 370.5L609 373.5L593 392.5L589 392.5ZM605.5 370L608.5 370L624.5 384L624.5 388L621.5 388L605.5 374ZM621 384L625 384L641 384L641 388L637 388L621 388ZM637 384.5L641 384.5L656 404.5L656 407.5L652 407.5L637 387.5ZM652.5 404L668.5 402L671.5 402L671.5 406L655.5 408L652.5 408ZM668.5 402L671.5 402L687.5 404L687.5 408L684.5 408L668.5 406ZM684 404.5L700 360.5L704 360.5L704 363.5L688 407.5L684 407.5ZM700 360.5L704 360.5L719 389.5L719 392.5L715 392.5L700 363.5ZM715 389.5L731 370.5L735 370.5L735 373.5L719 392.5L715 392.5ZM731.5 370L734.5 370L750.5 382L750.5 386L747.5 386L731.5 374ZM747.5 382L763.5 372L766.5 372L766.5 376L750.5 386L747.5 386ZM763.5 372L766.5 372L781.5 386L781.5 390L778.5 390L763.5 376ZM778 386.5L794 356.5L798 356.5L798 359.5L782 389.5L778 389.5ZM794.5 356L797.5 356L813.5 362L813.5 366L810.5 366L794.5 360ZM810.5 362L826.5 355L829.5 355L829.5 359L813.5 366L810.5 366ZM826.5 355L841.5 347L844.5 347L844.5 351L829.5 359L826.5 359ZM841.5 347L857.5 338L860.5 338L860.5 342L844.5 351L841.5 351ZM857 338.5L861 338.5L877 393.5L877 396.5L873 396.5L857 341.5ZM873.5 393L889.5 377L892.5 377L892.5 381L876.5 397L873.5 397ZM889.5 377L892.5 377L907.5 380L907.5 384L904.5 384L889.5 381ZM904.5 380L907.5 380L923.5 382L923.5 386L920.5 386L904.5 384ZM920 382.5L924 382.5L940 436.5L940 439.5L936 439.5L920 385.5ZM936.5 436L952.5 428L955.5 428L955.5 432L939.5 440L936.5 440ZM952.5 428L967.5 417L970.5 417L970.5 421L955.5 432L952.5 432ZM967 417.5L983 368.5L987 368.5L987 371.5L971 420.5L967 420.5ZM983.5 368L999.5 357L1002.5 357L1002.5 361L986.5 372L983.5 372ZM999.5 357L1002.5 357L1018.5 366L1018.5 370L1015.5 370L999.5 361ZM1015.5 366L1018.5 366L1033.5 372L1033.5 376L1030.5 376L1015.5 370ZM1030.5 372L1033.5 372L1049.5 375L1049.5 379L1046.5 379L1030.5 376ZM1046 375.5L1050 375.5L1066 398.5L1066 401.5L1062 401.5L1046 378.5ZM1062.5 398L1065.5 398L1081.5 404L1081.5 408L1078.5 408L1062.5 402ZM1078.5 404L1081.5 404L1096.5 418L1096.5 422L1093.5 422L1078.5 408ZM1093.5 418L1109.5 415L1112.5 415L1112.5 419L1096.5 422L1093.5 422ZM1109.5 415L1112.5 415L1128.5 421L1128.5 425L1125.5 425L1109.5 419ZM1125.5 421L1128.5 421L1144.5 431L1144.5 435L1141.5 435L1125.5 425ZM1141.5 431L1144.5 431L1159.5 436L1159.5 440L1156.5 440L1141.5 435ZM1156.5 436L1159.5 436L1175.5 440L1175.5 444L1172.5 444L1156.5 440ZM1172.5 440L1175.5 440L1191.5 442L1191.5 446L1188.5 446L1172.5 444ZM1188.5 442L1191.5 442L1207.5 443L1207.5 447L1204.5 447L1188.5 446ZM1204.5 443L1219.5 440L1222.5 440L1222.5 444L1207.5 447L1204.5 447ZM1219.5 440L1235.5 437L1238.5 437L1238.5 441L1222.5 444L1219.5 444ZM101 251h4v4h-4ZM117 255h4v4h-4ZM133 262h4v4h-4ZM148 309h4v4h-4ZM164 319h4v4h-4ZM180 370h4v4h-4ZM196 319h4v4h-4ZM211 320h4v4h-4ZM227 328h4v4h-4ZM243 339h4v4h-4ZM259 322h4v4h-4ZM274 314h4v4h-4ZM290 314h4v4h-4ZM306 321h4v4h-4ZM322 339h4v4h-4ZM337 345h4v4h-4ZM353 352h4v4h-4ZM369 373h4v4h-4ZM385 394h4v4h-4ZM400 414h4v4h-4ZM416 439h4v4h-4ZM432 434h4v4h-4ZM448 447h4v4h-4ZM463 459h4v4h-4ZM479 457h4v4h-4ZM495 446h4v4h-4ZM511 430h4v4h-4ZM526 428h4v4h-4ZM542 454h4v4h-4ZM558 455h4v4h-4ZM574 392h4v4h-4ZM589 389h4v4h-4ZM605 370h4v4h-4ZM621 384h4v4h-4ZM637 384h4v4h-4ZM652 404h4v4h-4ZM668 402h4v4h-4ZM684 404h4v4h-4ZM700 360h4v4h-4ZM715 389h4v4h-4ZM731 370h4v4h-4ZM747 382h4v4h-4ZM763 372h4v4h-4ZM778 386h4v4h-4ZM794 356h4v4h-4ZM810 362h4v4h-4ZM826 355h4v4h-4ZM841 347h4v4h-4ZM857 338h4v4h-4ZM873 393h4v4h-4ZM889 377h4v4h-4ZM904 380h4v4h-4ZM920 382h4v4h-4ZM936 436h4v4h-4ZM952 428h4v4h-4ZM967 417h4v4h-4ZM983 368h4v4h-4ZM999 357h4v4h-4ZM1015 366h4v4h-4ZM1030 372h4v4h-4ZM1046 375h4v4h-4ZM1062 398h4v4h-4ZM1078 404h4v4h-4ZM1093 418h4v4h-4ZM1109 415h4v4h-4ZM1125 421h4v4h-4ZM1141 431h4v4h-4ZM1156 436h4v4h-4ZM1172 440h4v4h-4ZM1188 442h4v4h-4ZM1204 443h4v4h-4ZM1219 440h4v4h-4ZM1235 437h4v4h-4Z"/>
<path class="s" fill="#ee82ee" d="M101.5 251L104.5 251L120.5 255L120.5 259L117.5 259L101.5 255ZM117.5 255L120.5 255L136.5 262L136.5 266L133.5 266L117.5 259ZM133 262.5L137 262.5L152 309.5L152 312.5L148 312.5L133 265.5ZM148.5 309L151.5 309L167.5 319L167.5 323L164.5 323L148.5 313ZM164 319.5L168 319.5L184 370.5L184 373.5L180 373.5L164 322.5ZM180 370.5L196 319.5L200 319.5L200 322.5L184 373.5L180 373.5ZM196.5 319L199.5 319L214.5 320L214.5 324L211.5 324L196.5 323ZM211.5 320L214.5 320L230.5 328L230.5 332L227.5 332L211.5 324ZM227.5 328L230.5 328L246.5 339L246.5 343L243.5 343L227.5 332ZM243 339.5L259 322.5L263 322.5L263 325.5L247 342.5L243 342.5ZM259.5 322L274.5 314L277.5 314L277.5 318L262.5 326L259.5 326ZM274 314L278 314L294 314L294 318L290 318L274 318ZM290.5 314L293.5 314L309.5 321L309.5 325L306.5 325L290.5 318ZM306 321.5L310 321.5L326 339.5L326 342.5L322 342.5L306 324.5ZM322.5 339L325.5 339L340.5 346L340.5 350L337.5 350L322.5 343ZM337.5 346L340.5 346L356.5 352L356.5 356L353.5 356L337.5 350ZM353 352.5L357 352.5L373 373.5L373 376.5L369 376.5L353 355.5ZM369 373.5L373 373.5L389 394.5L389 397.5L385 397.5L369 376.5ZM385 394.5L389 394.5L404 414.5L404 417.5L400 417.5L385 397.5ZM400 414.5L404 414.5L420 439.5L420 442.5L416 442.5L400 417.5ZM416.5 439L432.5 434L435.5 434L435.5 438L419.5 443L416.5 443ZM432.5 434L435.5 434L451.5 447L451.5 451L448.5 451L432.5 438ZM448.5 447L451.5 447L466.5 461L466.5 465L463.5 465L448.5 451ZM463.5 461L479.5 457L482.5 457L482.5 461L466.5 465L463.5 465ZM479.5 457L495.5 446L498.5 446L498.5 450L482.5 461L479.5 461ZM495.5 446L511.5 431L514.5 431L514.5 435L498.5 450L495.5 450ZM511.5 431L526.5 429L529.5 429L529.5 433L514.5 435L511.5 435ZM526 429.5L530 429.5L546 454.5L546 457.5L542 457.5L526 432.5ZM542.5 454L558.5 453L561.5 453L561.5 457L545.5 458L542.5 458ZM558 453.5L574 392.5L578 392.5L578 395.5L562 456.5L558 456.5ZM574.5 392L577.5 392L592.5 394L592.5 398L589.5 398L574.5 396ZM589.5 394L605.5 380L608.5 380L608.5 384L592.5 398L589.5 398ZM605.5 380L621.5 369L624.5 369L624.5 373L608.5 384L605.5 384ZM621.5 369L624.5 369L640.5 385L640.5 389L637.5 389L621.5 373ZM637.5 385L640.5 385L655.5 392L655.5 396L652.5 396L637.5 389ZM652 392.5L656 392.5L672 414.5L672 417.5L668 417.5L652 395.5ZM668 414.5L684 393.5L688 393.5L688 396.5L672 417.5L668 417.5ZM684.5 393L700.5 389L703.5 389L703.5 393L687.5 397L684.5 397ZM700 389.5L715 369.5L719 369.5L719 372.5L704 392.5L700 392.5ZM715 369.5L731 349.5L735 349.5L735 352.5L719 372.5L715 372.5ZM731 349.5L735 349.5L751 373.5L751 376.5L747 376.5L731 352.5ZM747 373.5L751 373.5L767 394.5L767 397.5L763 397.5L747 376.5ZM763.5 394L778.5 393L781.5 393L781.5 397L766.5 398L763.5 398ZM778 393.5L794 376.5L798 376.5L798 379.5L782 396.5L778 396.5ZM794.5 376L810.5 367L813.5 367L813.5 371L797.5 380L794.5 380ZM810.5 367L826.5 356L829.5 356L829.5 360L813.5 371L810.5 371ZM826.5 356L829.5 356L844.5 366L844.5 370L841.5 370L826.5 360ZM841 366.5L857 331.5L861 331.5L861 334.5L845 369.5L841 369.5ZM857 331.5L861 331.5L877 381.5L877 384.5L873 384.5L857 334.5ZM873.5 381L889.5 365L892.5 365L892.5 369L876.5 385L873.5 385ZM889.5 365L892.5 365L907.5 378L907.5 382L904.5 382L889.5 369ZM904 378.5L908 378.5L924 402.5L924 405.5L920 405.5L904 381.5ZM920 402.5L924 402.5L940 435.5L940 438.5L936 438.5L920 405.5ZM936.5 435L952.5 426L955.5 426L955.5 430L939.5 439L936.5 439ZM952.5 426L955.5 426L970.5 433L970.5 437L967.5 437L952.5 430ZM967 433.5L983 389.5L987 389.5L987 392.5L971 436.5L967 436.5ZM983 389.5L999 370.5L1003 370.5L1003 373.5L987 392.5L983 392.5ZM999.5 370L1015.5 369L1018.5 369L1018.5 373L1002.5 374L999.5 374ZM1015.5 369L1018.5 369L1033.5 382L1033.5 386L1030.5 386L1015.5 373ZM1030.5 382L1033.5 382L1049.5 385L1049.5 389L1046.5 389L1030.5 386ZM1046.5 385L1049.5 385L1065.5 400L1065.5 404L1062.5 404L1046.5 389ZM1062.5 400L1065.5 400L1081.5 407L1081.5 411L1078.5 411L1062.5 404ZM1078.5 407L1081.5 407L1096.5 421L1096.5 425L1093.5 425L1078.5 411ZM1093.5 421L1109.5 418L1112.5 418L1112.5 422L1096.5 425L1093.5 425ZM1109.5 418L1112.5 418L1128.5 424L1128.5 428L1125.5 428L1109.5 422ZM1125.5 424L1128.5 424L1144.5 432L1144.5 436L1141.5 436L1125.5 428ZM1141.5 432L1144.5 432L1159.5 436L1159.5 440L1156.5 440L1141.5 436ZM1156.5 436L1159.5 436L1175.5 440L1175.5 444L1172.5 444L1156.5 440ZM1172.5 440L1175.5 440L1191.5 443L1191.5 447L1188.5 447L1172.5 444ZM1188.5 443L1191.5 443L1207.5 444L1207.5 448L1204.5 448L1188.5 447ZM1204.5 444L1219.5 440L1222.5 440L1222.5 444L1207.5 448L1204.5 448ZM1219.5 440L1235.5 437L1238.5 437L1238.5 441L1222.5 444L1219.5 444ZM101 251h4v4h-4ZM117 255h4v4h-4ZM133 262h4v4h-4ZM148 309h4v4h-4ZM164 319h4v4h-4ZM180 370h4v4h-4ZM196 319h4v4h-4ZM211 320h4v4h-4ZM227 328h4v4h-4ZM243 339h4v4h-4ZM259 322h4v4h-4ZM274 314h4v4h-4ZM290 314h4v4h-4ZM306 321h4v4h-4ZM322 339h4v4h-4ZM337 346h4v4h-4ZM353 352h4v4h-4ZM369 373h4v4h-4ZM385 394h4v4h-4ZM400 414h4v4h-4ZM416 439h4v4h-4ZM432 434h4v4h-4ZM448 447h4v4h-4ZM463 461h4v4h-4ZM479 457h4v4h-4ZM495 446h4v4h-4ZM511 431h4v4h-4ZM526 429h4v4h-4ZM542 454h4v4h-4ZM558 453h4v4h-4ZM574 392h4v4h-4ZM589 394h4v4h-4ZM605 380h4v4h-4ZM621 369h4v4h-4ZM637 385h4v4h-4ZM652 392h4v4h-4ZM668 414h4v4h-4ZM684 393h4v4h-4ZM700 389h4v4h-4ZM715 369h4v4h-4ZM731 349h4v4h-4ZM747 373h4v4h-4ZM763 394h4v4h-4ZM778 393h4v4h-4ZM794 376h4v4h-4ZM810 367h4v4h-4ZM826 356h4v4h-4ZM841 366h4v4h-4ZM857 331h4v4h-4ZM873 381h4v4h-4ZM889 365h4v4h-4ZM904 378h4v4h-4ZM920 402h4v4h-4ZM936 435h4v4h-4ZM952 426h4v4h-4ZM967 433h4v4h-4ZM983 389h4v4h-4ZM999 370h4v4h-4ZM1015 369h4v4h-4ZM1030 382h4v4h-4ZM1046 385h4v4h-4ZM1062 400h4v4h-4ZM1078 407h4v4h-4ZM1093 421h4v4h-4ZM1109 418h4v4h-4ZM1125 424h4v4h-4ZM1141 432h4v4h-4ZM1156 436h4v4h-4ZM1172 440h4v4h-4ZM1188 443h4v4h-4ZM1204 444h4v4h-4ZM1219 440h4v4h-4ZM1235 437h4v4h-4Z"/>
<rect class="k" x="103.5" y="26.5" width="1134.0" height="629.0"/>
<text class="t" x="508.2" y="50" text-anchor="end">MesoNH</text>
<path class="s" fill="#00ff00" d="M521 44L526 44L589 44L589 49L584 49L521 49Z"/>
<text class="t" x="508.2" y="76" text-anchor="end">MesoNH-AROME</text>
<path class="s" fill="#ff0000" d="M521 70L525 70L588 70L588 74L584 74L521 74Z"/>
<text class="t" x="508.2" y="102" text-anchor="end">MesoNH-CH78</text>
<path class="s" fill="#0000ff" d="M521 96L525 96L588 96L588 100L584 100L521 100Z"/>
<text class="t" x="508.2" y="128" text-anchor="end">MesoNH-FLAKE</text>
<path class="s" fill="#add8e6" d="M521 122L525 122L588 122L588 126L584 126L521 126Z"/>
<text class="t" x="508.2" y="154" text-anchor="end">MesoNH-MEB</text>
<path class="s" fill="#ffff00" d="M521 148L525 148L588 148L588 152L584 152L521 152Z"/>
<text class="t" x="508.2" y="180" text-anchor="end">MesoNH-CH78-FLAKE-MEB-ORORAD</text>
<path class="s" fill="#ee82ee" d="M521 174L525 174L588 174L588 178L584 178L521 178Z"/>
<text class="l" x="668.5" y="723" text-anchor="middle">time (UTC)</text>
<text class="l" transform="translate(24,340) rotate(-90)" text-anchor="middle">10m - specific humidity (g kg<tspan dy="-9" style="font-size:21.3px">-1</tspan><tspan dy="9">)</tspan></text>
</svg></body></html>
